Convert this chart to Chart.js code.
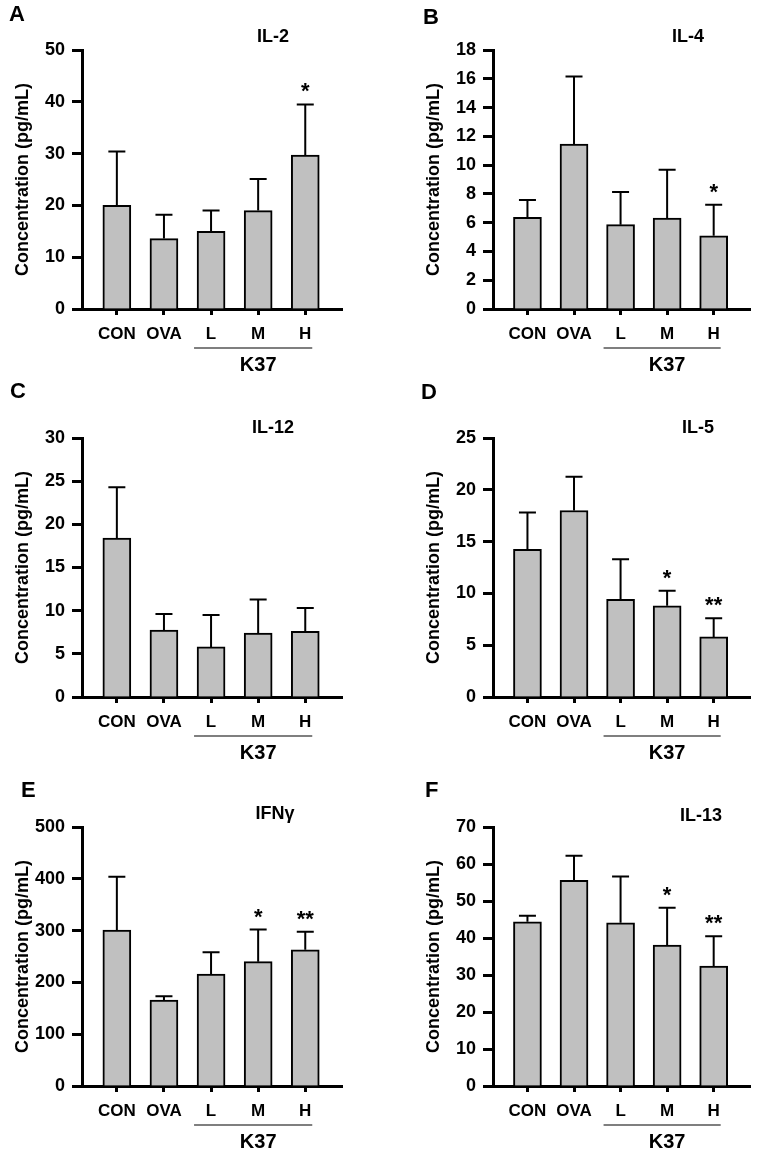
<!DOCTYPE html>
<html>
<head>
<meta charset="utf-8">
<title>Cytokine levels - K37</title>
<script src="https://cdn.jsdelivr.net/npm/chart.js@4.4.1/dist/chart.umd.min.js"></script>
<style>
  body { margin: 0; background: #fff; }
  #figure { position: relative; width: 757px; height: 1151px; overflow: hidden; }
  canvas { position: absolute; }
</style>
</head>
<body>
<div id="figure">
  <canvas id="chart-a" width="378" height="378" style="left:0px;top:0px"></canvas>
  <canvas id="chart-b" width="379" height="378" style="left:378px;top:0px"></canvas>
  <canvas id="chart-c" width="378" height="392" style="left:0px;top:378px"></canvas>
  <canvas id="chart-d" width="379" height="392" style="left:378px;top:378px"></canvas>
  <canvas id="chart-e" width="378" height="381" style="left:0px;top:770px"></canvas>
  <canvas id="chart-f" width="379" height="381" style="left:378px;top:770px"></canvas>
</div>
<script>
'use strict';

// Groups on the x axis
const categories = ['CON', 'OVA', 'L', 'M', 'H'];
const groupLabel = 'K37';

// IL-2
const il2Means = [20.0, 13.6, 15.0, 19.0, 29.7];
const il2Errors = [10.4, 4.6, 4.0, 6.1, 9.8];
const il2Stars = ['', '', '', '', '*'];
const il2Ticks = [0, 10, 20, 30, 40, 50];

// IL-4
const il4Means = [6.37, 11.46, 5.86, 6.32, 5.09];
const il4Errors = [1.2, 4.7, 2.27, 3.36, 2.16];
const il4Stars = ['', '', '', '', '*'];
const il4Ticks = [0, 2, 4, 6, 8, 10, 12, 14, 16, 18];

// IL-12
const il12Means = [18.4, 7.74, 5.8, 7.4, 7.6];
const il12Errors = [5.9, 1.86, 3.7, 3.9, 2.7];
const il12Stars = ['', '', '', '', ''];
const il12Ticks = [0, 5, 10, 15, 20, 25, 30];

// IL-5
const il5Means = [14.26, 18.0, 9.42, 8.8, 5.8];
const il5Errors = [3.54, 3.26, 3.88, 1.46, 1.8];
const il5Stars = ['', '', '', '*', '**'];
const il5Ticks = [0, 5, 10, 15, 20, 25];

// IFN-gamma
const ifnMeans = [301, 166, 216, 240, 263];
const ifnErrors = [103, 7.5, 42, 62, 35];
const ifnStars = ['', '', '', '*', '**'];
const ifnTicks = [0, 100, 200, 300, 400, 500];

// IL-13
const il13Means = [44.4, 55.6, 44.1, 38.1, 32.4];
const il13Errors = [1.6, 6.6, 12.5, 10.1, 8.1];
const il13Stars = ['', '', '', '*', '**'];
const il13Ticks = [0, 10, 20, 30, 40, 50, 60, 70];

const FONT = '"Liberation Sans", Arial, Helvetica, sans-serif';
const Y_AXIS_WIDTH = 82;
const X_AXIS_HEIGHT = 60;

Chart.defaults.font.family = FONT;
Chart.defaults.color = '#000';

// draws error bars, stars, panel letter, title and the K37 bracket
function makeExtras(panel, means, errors, stars) {
  return {
    id: 'extras' + panel.letter,
    afterDatasetsDraw(chart) {
      const ctx = chart.ctx;
      const xScale = chart.scales.x;
      const yScale = chart.scales.y;
      const area = chart.chartArea;

      ctx.save();
      ctx.strokeStyle = '#000';
      ctx.fillStyle = '#000';
      ctx.lineWidth = 2;

      for (let i = 0; i < means.length; i++) {
        let px = xScale.getPixelForValue(i);
        let base = yScale.getPixelForValue(means[i]);
        let top = yScale.getPixelForValue(means[i] + errors[i]);
        ctx.beginPath();
        ctx.moveTo(px, base);
        ctx.lineTo(px, top);
        ctx.moveTo(px - 8.5, top);
        ctx.lineTo(px + 8.5, top);
        ctx.stroke();

        if (stars[i]) {
          ctx.font = 'bold 22px ' + FONT;
          ctx.textAlign = 'center';
          ctx.textBaseline = 'alphabetic';
          ctx.fillText(stars[i], px, top - 6);
        }
      }

      // panel letter
      ctx.font = 'bold 22px ' + FONT;
      ctx.textAlign = 'left';
      ctx.textBaseline = 'alphabetic';
      ctx.fillText(panel.letter, panel.letterX - panel.left, panel.letterY - panel.top);

      // cytokine name
      ctx.font = 'bold 18px ' + FONT;
      ctx.textAlign = 'center';
      ctx.fillText(panel.title, panel.titleX - panel.left, panel.titleY - panel.top);

      // K37 bracket under L, M, H
      let x1 = xScale.getPixelForValue(2) - 17;
      let x2 = xScale.getPixelForValue(4) + 7;
      ctx.strokeStyle = '#555';
      ctx.lineWidth = 1.5;
      ctx.beginPath();
      ctx.moveTo(x1, area.bottom + 39);
      ctx.lineTo(x2, area.bottom + 39);
      ctx.stroke();

      ctx.font = 'bold 20px ' + FONT;
      ctx.fillText(groupLabel, xScale.getPixelForValue(3), area.bottom + 62);
      ctx.restore();
    }
  };
}

function renderPanel(panel, means, errors, stars, ticks) {
  const ctx = document.getElementById(panel.id).getContext('2d');

  let points = [];
  for (let i = 0; i < means.length; i++) {
    points.push({ x: i, y: means[i] });
  }

  let padding = {
    left: panel.areaLeft - panel.left - Y_AXIS_WIDTH,
    right: panel.left + panel.width - panel.areaRight,
    top: panel.areaTop - panel.top,
    bottom: panel.top + panel.height - panel.areaBottom - X_AXIS_HEIGHT
  };

  return new Chart(ctx, {
    type: 'bar',
    data: {
      datasets: [{
        data: points,
        backgroundColor: '#c0c0c0',
        borderColor: '#000',
        borderWidth: 2,
        barThickness: 28
      }]
    },
    options: {
      responsive: false,
      animation: false,
      devicePixelRatio: 1,
      layout: { padding: padding },
      plugins: {
        legend: { display: false },
        tooltip: { enabled: false }
      },
      scales: {
        x: {
          type: 'linear',
          offset: false,
          min: -0.74,
          max: 4.78,
          afterFit: (scale) => { scale.height = X_AXIS_HEIGHT; },
          border: { display: true, color: '#000', width: 3 },
          grid: {
            offset: false,
            drawOnChartArea: false,
            drawTicks: true,
            tickLength: 6,
            tickWidth: 3,
            tickColor: '#000'
          },
          ticks: {
            stepSize: 1,
            includeBounds: false,
            autoSkip: false,
            maxRotation: 0,
            padding: 9,
            color: '#000',
            font: { size: 17, weight: 'bold' },
            callback: (value) => categories[value] || ''
          }
        },
        y: {
          min: ticks[0],
          max: ticks[ticks.length - 1],
          afterFit: (scale) => { scale.width = Y_AXIS_WIDTH; },
          border: { display: true, color: '#000', width: 3 },
          grid: {
            drawOnChartArea: false,
            drawTicks: true,
            tickLength: 10,
            tickWidth: 3,
            tickColor: '#000'
          },
          ticks: {
            stepSize: ticks[1] - ticks[0],
            padding: 7,
            color: '#000',
            font: { size: 18, weight: 'bold' }
          },
          title: {
            display: true,
            text: 'Concentration (pg/mL)',
            color: '#000',
            font: { size: 18, weight: 'bold' },
            padding: { top: 12, bottom: 0 }
          }
        }
      }
    },
    plugins: [makeExtras(panel, means, errors, stars)]
  });
}

// page positions of each panel
const panelA = { id: 'chart-a', letter: 'A', title: 'IL-2', left: 0, top: 0, width: 378, height: 378,
  areaLeft: 82, areaRight: 342, areaTop: 50, areaBottom: 309, letterX: 9, letterY: 21, titleX: 273, titleY: 42 };
const panelB = { id: 'chart-b', letter: 'B', title: 'IL-4', left: 378, top: 0, width: 379, height: 378,
  areaLeft: 493, areaRight: 750, areaTop: 50, areaBottom: 309, letterX: 423, letterY: 24, titleX: 688, titleY: 42 };
const panelC = { id: 'chart-c', letter: 'C', title: 'IL-12', left: 0, top: 378, width: 378, height: 392,
  areaLeft: 82, areaRight: 342, areaTop: 438, areaBottom: 697, letterX: 10, letterY: 398, titleX: 273, titleY: 433 };
const panelD = { id: 'chart-d', letter: 'D', title: 'IL-5', left: 378, top: 378, width: 379, height: 392,
  areaLeft: 493, areaRight: 750, areaTop: 438, areaBottom: 697, letterX: 421, letterY: 399, titleX: 698, titleY: 433 };
const panelE = { id: 'chart-e', letter: 'E', title: 'IFN\u03b3', left: 0, top: 770, width: 378, height: 381,
  areaLeft: 82, areaRight: 342, areaTop: 827, areaBottom: 1086, letterX: 21, letterY: 797, titleX: 275, titleY: 819 };
const panelF = { id: 'chart-f', letter: 'F', title: 'IL-13', left: 378, top: 770, width: 379, height: 381,
  areaLeft: 493, areaRight: 750, areaTop: 827, areaBottom: 1086, letterX: 425, letterY: 797, titleX: 701, titleY: 821 };

renderPanel(panelA, il2Means, il2Errors, il2Stars, il2Ticks);
renderPanel(panelB, il4Means, il4Errors, il4Stars, il4Ticks);
renderPanel(panelC, il12Means, il12Errors, il12Stars, il12Ticks);
renderPanel(panelD, il5Means, il5Errors, il5Stars, il5Ticks);
renderPanel(panelE, ifnMeans, ifnErrors, ifnStars, ifnTicks);
renderPanel(panelF, il13Means, il13Errors, il13Stars, il13Ticks);
</script>
</body>
</html>
